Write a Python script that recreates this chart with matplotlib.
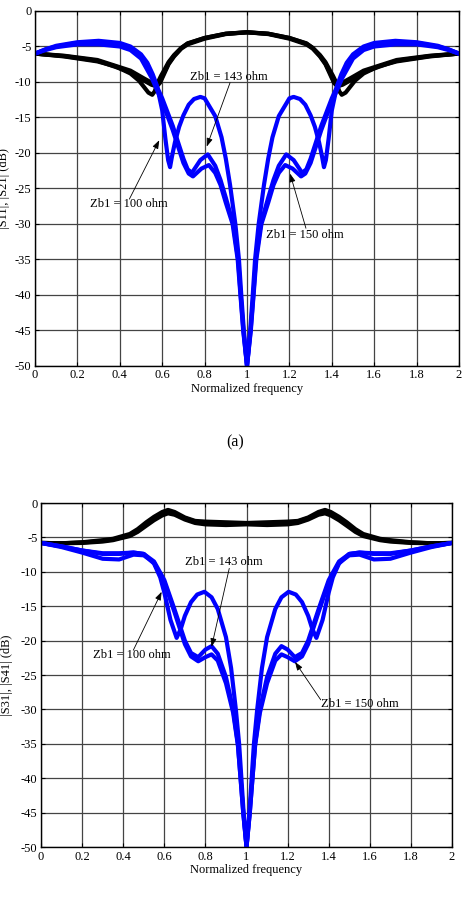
import numpy as np
import matplotlib
matplotlib.use("Agg")
import matplotlib.pyplot as plt

plt.rcParams['font.family'] = ['Liberation Serif', 'DejaVu Serif']
plt.rcParams['axes.unicode_minus'] = False

# curves are symmetric about f = 1, only the left half is listed (f from 0 to 1)

# ---- (a) |S21| black, three Zb1 values
s21_f_100 = [0, 0.137, 0.294, 0.38, 0.45, 0.49, 0.514, 0.535, 0.553, 0.565, 0.577,
             0.595, 0.61, 0.63, 0.656, 0.69, 0.72, 0.8, 0.9, 1.0]
s21_100 = [-6.0, -6.4, -7.1, -7.8, -8.8, -9.8, -10.7, -11.5, -11.8, -11.3, -10.2,
           -9.1, -8.3, -7.2, -6.2, -5.2, -4.55, -3.8, -3.2, -3.0]
s21_f_bc = [0, 0.137, 0.294, 0.45, 0.514, 0.55, 0.575, 0.59, 0.61, 0.63, 0.656,
            0.69, 0.72, 0.8, 0.9, 1.0]
s21_143 = [-6.0, -6.3, -6.9, -8.4, -9.5, -10.1, -10.4, -9.9, -8.6, -7.4, -6.3,
           -5.2, -4.6, -3.8, -3.2, -3.0]
s21_150 = [-6.0, -6.35, -7.0, -8.6, -9.8, -10.4, -10.6, -10.1, -8.8, -7.5, -6.4,
           -5.3, -4.7, -3.9, -3.25, -3.0]

# ---- (a) |S11| blue
s11_f_100 = [0, 0.05, 0.1, 0.2, 0.3, 0.4, 0.45, 0.5, 0.53, 0.555, 0.575, 0.6, 0.615,
             0.628, 0.637, 0.646, 0.66, 0.68, 0.7, 0.725, 0.75, 0.78, 0.8, 0.85,
             0.88, 0.9, 0.92, 0.945, 0.962, 0.973, 0.985, 1.0]
s11_100 = [-6.0, -5.4, -4.9, -4.4, -4.2, -4.5, -5.0, -6.1, -7.3, -8.9, -10.5, -14.0,
           -18.0, -21.0, -22.0, -20.5, -18.5, -16.3, -14.7, -13.2, -12.4, -12.1,
           -12.3, -14.8, -17.8, -20.8, -24.5, -30.0, -35.0, -40.0, -45.0, -50.0]
s11_f_143 = [0, 0.05, 0.1, 0.2, 0.3, 0.4, 0.45, 0.5, 0.55, 0.6, 0.65, 0.7, 0.72,
             0.74, 0.78, 0.815, 0.85, 0.875, 0.9, 0.935, 0.958, 0.97, 0.983, 1.0]
s11_143 = [-6.0, -5.4, -5.0, -4.5, -4.4, -4.7, -5.2, -6.4, -9.0, -12.3, -16.2, -20.8,
           -22.3, -22.8, -21.0, -20.2, -21.8, -23.8, -26.3, -30.0, -35.0, -40.0,
           -45.0, -50.0]
s11_f_150 = [0, 0.05, 0.1, 0.2, 0.3, 0.4, 0.45, 0.5, 0.55, 0.6, 0.65, 0.7, 0.725,
             0.745, 0.785, 0.82, 0.85, 0.875, 0.9, 0.932, 0.956, 0.969, 0.982, 1.0]
s11_150 = [-6.0, -5.5, -5.1, -4.7, -4.7, -5.0, -5.5, -6.7, -9.4, -12.8, -16.8, -21.4,
           -22.9, -23.3, -22.2, -21.7, -22.8, -24.5, -27.0, -30.0, -35.0, -40.0,
           -45.0, -50.0]

# ---- (b) |S31| black
s31_f = [0, 0.1, 0.2, 0.3, 0.35, 0.432, 0.47, 0.512, 0.55, 0.59, 0.618, 0.65, 0.7,
         0.75, 0.8, 0.9, 1.0]
s31_100 = [-5.8, -5.85, -5.7, -5.4, -5.2, -4.5, -3.8, -2.8, -2.0, -1.3, -1.0, -1.3,
           -2.1, -2.6, -2.7, -2.8, -2.9]
s31_143 = [-5.8, -5.85, -5.75, -5.5, -5.3, -4.7, -4.0, -3.1, -2.3, -1.6, -1.3, -1.5,
           -2.2, -2.7, -2.9, -3.0, -3.0]
s31_150 = [-5.8, -5.85, -5.8, -5.6, -5.4, -4.8, -4.2, -3.3, -2.5, -1.8, -1.5, -1.7,
           -2.4, -2.9, -3.1, -3.2, -3.1]

# ---- (b) |S41| blue
s41_f_100 = [0, 0.1, 0.2, 0.3, 0.38, 0.45, 0.5, 0.55, 0.58, 0.6, 0.63, 0.66, 0.68,
             0.7, 0.73, 0.76, 0.795, 0.83, 0.86, 0.9, 0.925, 0.948, 0.964, 0.975,
             0.986, 1.0]
s41_100 = [-5.8, -6.3, -6.9, -7.3, -7.3, -7.2, -7.4, -8.8, -10.8, -13.0, -17.0, -19.6,
           -18.3, -16.4, -14.4, -13.3, -12.9, -13.7, -15.4, -19.5, -24.0, -30.0,
           -35.0, -40.0, -45.0, -50.0]
s41_f_bc = [0, 0.1, 0.2, 0.3, 0.38, 0.45, 0.5, 0.55, 0.6, 0.65, 0.7, 0.73, 0.765,
            0.8, 0.83, 0.86, 0.9, 0.935, 0.958, 0.971, 0.984, 1.0]
s41_143 = [-5.8, -6.3, -6.9, -7.4, -7.4, -7.2, -7.4, -8.5, -11.2, -15.5, -20.0, -21.8,
           -22.4, -21.3, -20.8, -21.9, -25.3, -30.0, -35.0, -40.0, -45.0, -50.0]
s41_150 = [-5.8, -6.4, -7.2, -8.1, -8.2, -7.5, -7.6, -8.7, -11.5, -15.9, -20.5, -22.3,
           -23.0, -22.4, -22.0, -22.9, -26.2, -30.5, -35.2, -40.0, -45.0, -50.0]

xticks = [0, 0.2, 0.4, 0.6, 0.8, 1, 1.2, 1.4, 1.6, 1.8, 2]
xtick_labels = ['0', '0.2', '0.4', '0.6', '0.8', '1', '1.2', '1.4', '1.6', '1.8', '2']
yticks = [0, -5, -10, -15, -20, -25, -30, -35, -40, -45, -50]


def full(f, v):
    f = np.asarray(f, float)
    v = np.asarray(v, float)
    return np.concatenate([f, 2 - f[::-1][1:]]), np.concatenate([v, v[::-1][1:]])


def style(ax, ylabel, lx):
    ax.set_xlim(0, 2)
    ax.set_ylim(-50, 0)
    ax.set_xticks(xticks)
    ax.set_xticklabels(xtick_labels)
    ax.set_yticks(yticks)
    ax.set_yticklabels([str(t) for t in yticks])
    ax.grid(True, color='#444444', lw=0.9)
    ax.tick_params(direction='in', top=True, right=True, labelsize=9, pad=2.5,
                   length=3)
    ax.set_xlabel('Normalized frequency', fontsize=9, labelpad=1)
    ax.set_ylabel(ylabel, fontsize=9)
    ax.yaxis.set_label_coords(lx, 0.5)
    for s in ax.spines.values():
        s.set_linewidth(1.0)


def label(ax, text, tpos, tail, tip):
    ax.text(tpos[0], tpos[1], text, fontsize=9, ha='left', va='center', zorder=6)
    ax.annotate('', xy=tip, xytext=tail,
                arrowprops=dict(arrowstyle='-|>,head_length=0.5,head_width=0.18',
                                color='black', lw=0.6, shrinkA=0, shrinkB=0),
                zorder=6)


fig = plt.figure(figsize=(4.65, 9.01), dpi=100)
ax1 = fig.add_axes([0.0753, 0.5938, 0.9118, 0.394])
ax2 = fig.add_axes([0.0882, 0.0599, 0.8839, 0.3818])

lw = 3.0
for f, v in [(s21_f_100, s21_100), (s21_f_bc, s21_143), (s21_f_bc, s21_150)]:
    x, y = full(f, v)
    ax1.plot(x, y, color='black', lw=lw, solid_joinstyle='round')
for f, v in [(s11_f_100, s11_100), (s11_f_143, s11_143), (s11_f_150, s11_150)]:
    x, y = full(f, v)
    ax1.plot(x, y, color='#0000ff', lw=lw, solid_joinstyle='round')
style(ax1, '|S11|, |S21| (dB)', -0.058)
label(ax1, 'Zb1 = 143 ohm', (0.731, -9.3), (0.92, -10.1), (0.81, -19.1))
label(ax1, 'Zb1 = 100 ohm', (0.259, -27.2), (0.445, -26.5), (0.586, -18.2))
label(ax1, 'Zb1 = 150 ohm', (1.09, -31.5), (1.278, -30.6), (1.203, -22.9))

for v in [s31_100, s31_143, s31_150]:
    x, y = full(s31_f, v)
    ax2.plot(x, y, color='black', lw=lw, solid_joinstyle='round')
for f, v in [(s41_f_100, s41_100), (s41_f_bc, s41_143), (s41_f_bc, s41_150)]:
    x, y = full(f, v)
    ax2.plot(x, y, color='#0000ff', lw=lw, solid_joinstyle='round')
style(ax2, '|S31|, |S41| (dB)', -0.069)
label(ax2, 'Zb1 = 143 ohm', (0.70, -8.5), (0.916, -9.5), (0.83, -20.9))
label(ax2, 'Zb1 = 100 ohm', (0.253, -22.1), (0.449, -21.4), (0.587, -12.9))
label(ax2, 'Zb1 = 150 ohm', (1.361, -29.2), (1.361, -28.6), (1.236, -23.1))

fig.text(0.505, 0.509, '(a)', fontsize=11.5, ha='center', va='center')

fig.savefig('out.png', dpi=100)
